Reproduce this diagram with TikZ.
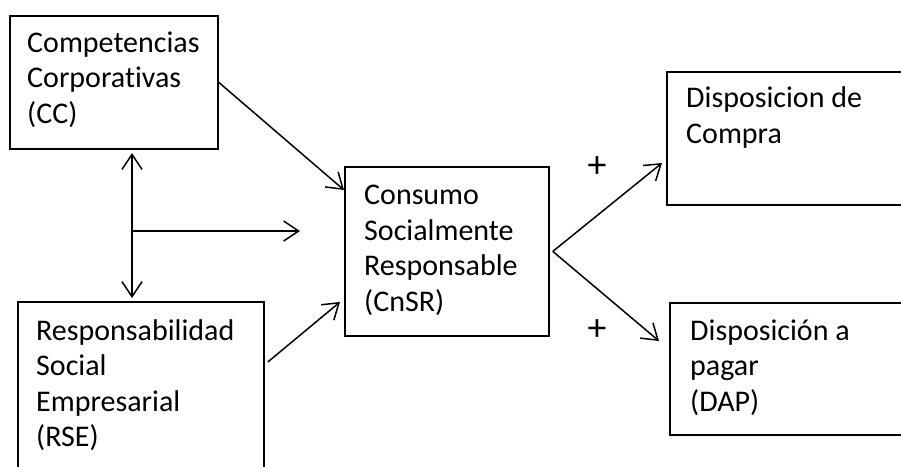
\documentclass[tikz,border=0pt]{standalone}
\usepackage{fontspec}
\setmainfont[Ligatures=NoCommon]{Carlito}
\usetikzlibrary{arrows.meta,calc}
\begin{document}
\begin{tikzpicture}[x=1pt,y=-1pt,
  box/.style={draw=black,line width=1.8pt,rectangle,inner sep=0pt,anchor=north west},
  lbl/.style={inner sep=0pt,anchor=base west,align=left,font=\fontsize{30}{35.5}\selectfont},
  plus/.style={inner sep=0pt,font=\fontsize{38}{40}\selectfont},
  tip/.style={Straight Barb[length=15pt,width=20pt,line width=1.5pt]},
  arr/.style={line width=1.5pt,-{Straight Barb[length=15pt,width=20pt,line width=1.5pt]}},
  darr/.style={line width=1.5pt,{Straight Barb[length=15pt,width=20pt,line width=1.5pt]}-{Straight Barb[length=15pt,width=20pt,line width=1.5pt]}}]
\useasboundingbox (0,0) rectangle (901,466);
\clip (0,0) rectangle (901,466);
% boxes
\node[box,minimum width=208pt,minimum height=133pt] (cc) at (9,15) {};
\node[box,minimum width=246pt,minimum height=200pt] (rse) at (17,301) {};
\node[box,minimum width=204pt,minimum height=169pt] (cnsr) at (344,166) {};
\node[box,minimum width=260pt,minimum height=133pt] (dc) at (666,71) {};
\node[box,minimum width=260pt,minimum height=132pt] (dap) at (669,302) {};
% texts (anchored at the baseline of their last line)
\node[lbl] (tcc) at (27,123) {Competencias\\Corporativas\\(CC)};
\node[lbl] (trse) at (36,446.5) {Responsabilidad\\Social\\Empresarial\\(RSE)};
\node[lbl] (tcnsr) at (364,311) {Consumo\\Socialmente\\Responsable\\(CnSR)};
\node[lbl] (tdc) at (686,143) {Disposicion de\\Compra};
\node[lbl] (tdap) at (690,411) {Disposición a\\pagar\\(DAP)};
\node[plus] (p1) at (597,167) {+};
\node[plus] (p2) at (597,330) {+};
% connectors
\coordinate (hx) at (300,231);
\coordinate (vtop) at (132,153);
\coordinate (vbot) at (132,298);
\coordinate (hs) at (132,231);
\draw[darr] (vtop) -- (vbot);
\draw[arr] (hs) -- (hx);
\draw[arr] (cc.east) -- ([yshift=-24pt]cnsr.north west);
\draw[arr] ([xshift=3pt,yshift=-61pt]rse.north east) -- ([xshift=-4pt,yshift=-136pt]cnsr.north west);
\draw[arr] ([xshift=3pt]cnsr.east) -- ([xshift=-4pt,yshift=-92pt]dc.north west);
\draw[arr] ([xshift=3pt]cnsr.east) -- ([xshift=-10pt,yshift=-39pt]dap.north west);
\end{tikzpicture}
\end{document}
